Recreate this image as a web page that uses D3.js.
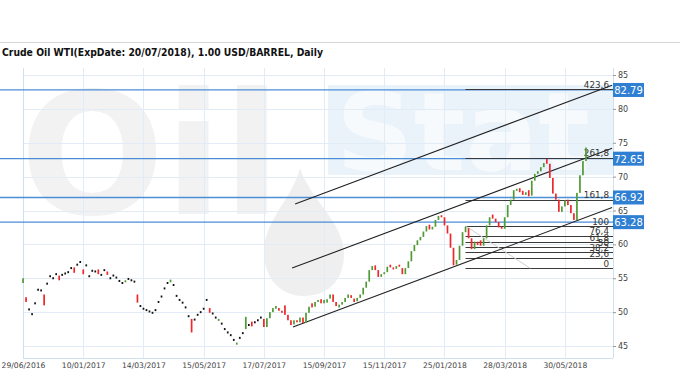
<!DOCTYPE html>
<html><head><meta charset="utf-8">
<script src="https://cdn.jsdelivr.net/npm/d3@7"></script>
<style>body{margin:0;background:#fff}svg{display:block}</style>
</head><body>
<script>
// ---- data ----
const title = "Crude Oil WTI(ExpDate: 20/07/2018), 1.00 USD/BARREL, Daily";
const dateLabels = ["29/06/2016","10/01/2017","14/03/2017","15/05/2017","17/07/2017","15/09/2017","15/11/2017","25/01/2018","28/03/2018","30/05/2018"];
const dateTickIndex = [0,20,40,60,80,100,120,140,160,180];
const priceTicks = [45,50,55,60,65,70,75,80,85];
const opens = [54.3,52.2,50.4,49.7,51.3,53.3,53.2,52.6,54.2,55.3,55.0,55.6,55.4,55.5,55.7,55.9,56.5,56.6,57.0,57.4,
56.3,56.9,55.3,56.1,56.0,56.3,55.5,56.2,56.0,55.0,55.4,55.1,54.6,54.3,54.4,54.9,54.7,54.5,52.6,50.9,
50.5,50.3,50.1,49.9,50.3,51.5,52.3,53.5,54.3,54.4,54.0,52.4,51.8,51.4,50.7,49.4,49.0,48.9,49.6,50.0,
50.5,51.8,50.6,49.8,49.2,48.7,48.3,47.5,47.0,46.6,45.9,45.2,46.2,46.9,47.5,48.1,48.6,48.5,48.8,49.2,
49.0,47.8,49.1,50.0,50.5,50.6,50.2,51.0,49.6,48.8,48.2,48.8,48.5,49.2,48.4,49.9,51.3,50.8,51.5,51.9,
51.3,51.4,52.0,52.6,51.5,50.7,51.1,51.5,52.1,52.5,52.0,51.6,52.1,52.6,53.6,54.5,56.2,56.9,56.2,55.2,
55.6,55.9,57.0,56.6,56.4,57.0,56.5,55.6,56.5,57.5,59.0,59.9,60.6,61.1,61.9,62.9,62.2,62.6,63.6,64.3,
64.0,62.8,61.6,59.5,57.0,57.7,59.8,61.8,62.4,60.9,59.3,60.4,60.6,59.8,60.9,62.8,64.4,63.8,63.3,62.6,
62.3,64.0,65.8,66.6,68.0,68.3,67.9,67.3,68.0,67.2,69.4,70.4,70.8,71.4,72.6,71.9,69.8,67.5,66.6,64.8,
65.6,66.6,65.8,64.6,63.6,67.6,70.2,72.3];
const closes = [55.0,51.5,50.4,49.7,51.3,53.3,53.2,51.0,54.2,55.3,55.0,55.6,54.7,55.5,55.7,55.9,56.5,55.8,57.0,57.4,
55.6,56.9,55.3,56.1,56.0,55.6,55.5,56.2,55.5,55.0,55.4,55.1,54.6,54.3,54.7,54.9,54.7,54.5,51.4,50.9,
50.5,50.3,50.1,49.9,50.3,51.5,52.3,53.5,54.3,54.8,54.0,52.4,51.8,51.4,50.7,49.4,47.0,48.9,49.6,50.0,
50.5,51.8,49.9,49.8,49.2,49.0,48.3,47.5,47.0,46.6,45.9,45.5,46.2,46.9,49.3,48.1,47.9,48.5,48.8,49.2,
47.8,49.1,50.0,50.6,50.9,50.2,50.0,49.6,48.8,48.1,48.8,48.5,49.2,48.4,49.9,50.8,50.7,51.5,51.8,51.3,
51.8,51.9,52.6,51.5,50.9,51.1,51.5,52.1,52.6,52.1,51.5,52.1,52.6,53.6,54.5,56.2,56.8,56.2,55.2,55.6,
55.9,56.7,56.6,56.4,56.8,56.7,55.6,56.5,57.5,59.0,59.9,60.6,61.1,61.9,62.7,62.2,62.6,63.6,64.2,64.0,
62.8,61.6,59.5,56.9,57.7,59.8,61.8,62.6,60.9,59.3,60.4,59.9,59.8,60.9,62.8,64.0,63.8,63.3,62.5,62.3,
64.0,65.8,66.6,68.0,68.2,67.7,67.3,67.7,67.1,69.4,70.4,70.8,71.4,72.0,71.9,69.8,67.5,66.6,64.8,65.6,
66.5,65.8,64.6,63.6,67.6,70.2,72.3,74.3];
const levelPrices = [82.79,72.65,66.92,63.28];
const fibLevels = [0,23.6,38.2,50,61.8,76.4,100,161.8,261.8,423.6];
const fibLabels = ["0","23,6","38,2","50","61,8","76,4","100","161,8","261,8","423,6"];
const fibLow = 56.47, fibHigh = 62.71, fibStartIndex = 147, fibDiagEndIndex = 168.5;
const channelStart = [[90.4,65.96],[89.4,56.5],[89.7,47.8]];
const channelEnd = [[195.7,83.5],[195.7,74.2],[195.7,65.45]];

// ---- chart ----
const W=680,H=380;
const svg=d3.select("body").append("svg").attr("width",W).attr("height",H);
const x=d3.scaleLinear().domain([0,196]).range([23,613]);
const y=d3.scaleLinear().domain([45,85]).range([346,75]);
const pTop=68,pBottom=358,pLeft=23,pRight=613;
svg.append("line").attr("x1",0).attr("x2",W).attr("y1",42.5).attr("y2",42.5).attr("stroke","#d4d4d4");
svg.append("text").attr("x",2).attr("y",56).text(title)
  .attr("font-family","'DejaVu Sans',Verdana,sans-serif").attr("font-weight","bold").attr("font-size",10.5)
  .attr("fill","#111").attr("textLength",321).attr("lengthAdjust","spacingAndGlyphs");

// watermark
const wm=svg.append("g");
wm.append("rect").attr("x",328).attr("y",85).attr("width",285).attr("height",90).attr("fill","#eaf2fa");
wm.append("text").attr("x",20).attr("y",214).text("Oil").attr("font-family","'DejaVu Sans',sans-serif")
  .attr("font-weight","bold").attr("font-size",170).attr("fill","#f2f2f2");
wm.append("text").attr("x",336).attr("y",170).text("Stat").attr("font-family","'DejaVu Sans',sans-serif")
  .attr("font-weight","bold").attr("font-size",108).attr("fill","#f7fafd");
wm.append("path").attr("d","M300,168 C292,200 262,222 264,255 C266,283 284,296 304,296 C326,296 344,282 344,254 C344,222 310,200 300,168 Z")
  .attr("fill","#efefef");

// grid
const g=svg.append("g");
g.selectAll(".hg").data(priceTicks).join("line").attr("x1",pLeft).attr("x2",pRight)
  .attr("y1",d=>Math.round(y(d))+.5).attr("y2",d=>Math.round(y(d))+.5).attr("stroke","#e2ecf7");
g.selectAll(".vg").data(dateTickIndex).join("line").attr("y1",pTop).attr("y2",pBottom)
  .attr("x1",d=>Math.round(x(d))+.5).attr("x2",d=>Math.round(x(d))+.5).attr("stroke","#e2ecf7");
g.append("line").attr("x1",pLeft+.5).attr("x2",pLeft+.5).attr("y1",pTop).attr("y2",pBottom).attr("stroke","#cfe0f1");
g.append("line").attr("x1",pRight+.5).attr("x2",pRight+.5).attr("y1",pTop).attr("y2",pBottom).attr("stroke","#cfe0f1");
g.append("line").attr("x1",pLeft).attr("x2",pRight).attr("y1",pBottom+.5).attr("y2",pBottom+.5).attr("stroke","#cfe0f1");

// axes
const ya=d3.axisRight(y).tickValues(priceTicks).tickSize(3).tickPadding(2);
svg.append("g").attr("transform",`translate(${pRight},0)`).call(ya)
  .call(s=>s.select(".domain").remove())
  .call(s=>s.selectAll("line").attr("stroke","#999"))
  .call(s=>s.selectAll("text").attr("font-family","'DejaVu Sans',Verdana,sans-serif").attr("font-size",8).attr("fill","#444"));
const xa=d3.axisBottom(x).tickValues(dateTickIndex).tickFormat((d,i)=>dateLabels[i]).tickSize(0).tickPadding(5);
svg.append("g").attr("transform",`translate(0,${pBottom})`).call(xa)
  .call(s=>s.select(".domain").remove())
  .call(s=>s.selectAll("text").attr("font-family","'DejaVu Sans',Verdana,sans-serif").attr("font-size",7.6).attr("fill","#444"));

// blue level lines
svg.selectAll(".lvl").data(levelPrices).join("line").attr("x1",0).attr("x2",pRight)
  .attr("y1",d=>y(d)).attr("y2",d=>y(d)).attr("stroke","#4a8ed8").attr("stroke-width",1.3);

// fib
const fibPrice=l=>fibLow+l/100*(fibHigh-fibLow);
svg.selectAll(".fib").data(fibLevels).join("line").attr("x1",x(fibStartIndex)).attr("x2",pRight)
  .attr("y1",d=>Math.round(y(fibPrice(d)))+.5).attr("y2",d=>Math.round(y(fibPrice(d)))+.5)
  .attr("stroke","#3a3a3a").attr("stroke-width",1.2);
svg.append("line").attr("x1",x(fibStartIndex)).attr("y1",y(fibHigh)).attr("x2",x(fibDiagEndIndex)).attr("y2",y(fibLow))
  .attr("stroke","#cfcfcf");
svg.selectAll(".fibt").data(fibLevels).join("text").attr("x",609).attr("y",d=>y(fibPrice(d))-1.5)
  .attr("text-anchor","end").text((d,i)=>fibLabels[i]).attr("font-family","'DejaVu Sans',Verdana,sans-serif")
  .attr("font-size",8.8).attr("fill","#333");

// channel
svg.selectAll(".ch").data(channelStart).join("line")
  .attr("x1",d=>x(d[0])).attr("y1",d=>y(d[1]))
  .attr("x2",(d,i)=>x(channelEnd[i][0])).attr("y2",(d,i)=>y(channelEnd[i][1]))
  .attr("stroke","#222").attr("stroke-width",1.1);

// candles
const data=opens.map((o,i)=>({i,o,c:closes[i]}));
svg.selectAll(".cd").data(data).join("rect")
  .attr("x",d=>x(d.i)-0.8).attr("width",1.7)
  .attr("y",d=>Math.min(y(d.o),y(d.c))-(d.o===d.c?1:0))
  .attr("height",d=>Math.max(Math.abs(y(d.o)-y(d.c)),2))
  .attr("fill",d=>d.o===d.c?"#111":(d.c>d.o?"#4f9a35":"#f0262a"));

// level boxes
const bx=svg.selectAll(".bx").data(levelPrices).join("g").attr("transform",d=>`translate(${pRight},${y(d)})`);
bx.append("rect").attr("x",0).attr("y",-7).attr("width",31).attr("height",14).attr("fill","#2f80d3");
bx.append("text").attr("x",15.5).attr("y",4).attr("text-anchor","middle").text(d=>d.toFixed(2))
  .attr("font-family","'DejaVu Sans',Verdana,sans-serif").attr("font-size",10).attr("fill","#fff");
</script>
</body></html>
